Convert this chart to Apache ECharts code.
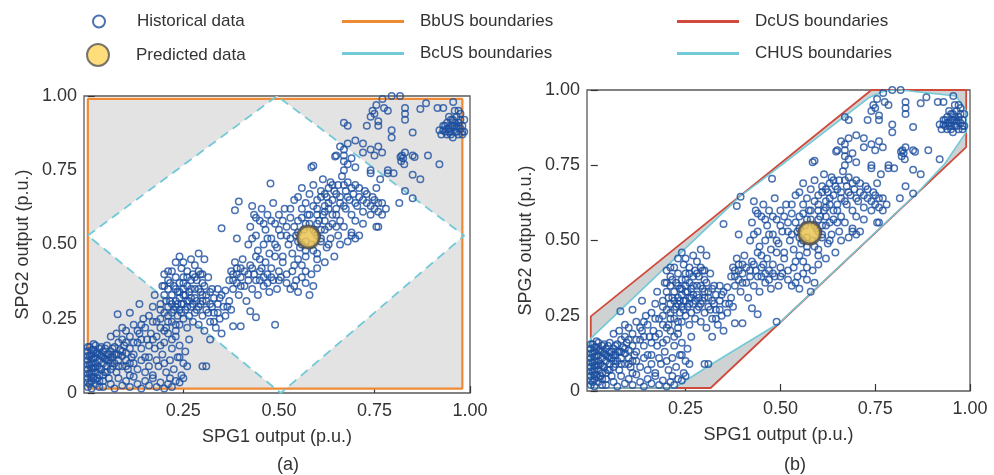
<!DOCTYPE html>
<html>
<head>
<meta charset="utf-8">
<script src="https://cdn.jsdelivr.net/npm/echarts@6/dist/echarts.min.js"></script>
<style>
  html, body { margin: 0; padding: 0; background: #fff; }
  #chart { width: 994px; height: 475px; }
</style>
</head>
<body>
<div id="chart"></div>
<script>
// historical (SPG1, SPG2) outputs, same set in both panels
const historical = [
  // dense block near origin
  [0.00,0.05],[0.00,0.08],[0.00,0.11],[0.00,0.14],[0.005,0.03],[0.005,0.065],[0.005,0.095],[0.005,0.125],[0.005,0.155],
  [0.01,0.04],[0.01,0.07],[0.01,0.10],[0.01,0.13],[0.015,0.055],[0.015,0.085],[0.015,0.115],[0.015,0.145],[0.02,0.03],
  [0.02,0.07],[0.02,0.10],[0.02,0.12],[0.02,0.16],[0.025,0.05],[0.025,0.09],[0.025,0.135],[0.03,0.06],[0.03,0.11],
  [0.03,0.15],[0.035,0.08],[0.035,0.125],[0.04,0.04],[0.04,0.10],[0.04,0.14],[0.045,0.07],[0.045,0.115],[0.05,0.09],
  [0.05,0.13],[0.05,0.16],[0.055,0.05],[0.055,0.11],[0.06,0.08],[0.06,0.14],[0.065,0.12],[0.07,0.10],[0.07,0.155],
  [0.075,0.07],[0.075,0.13],[0.08,0.11],[0.085,0.145],[0.09,0.09],[0.09,0.125],[0.095,0.16],[0.10,0.11],[0.10,0.135],
  [0.105,0.08],[0.11,0.15],[0.115,0.12],[0.12,0.10],[0.00,0.02],[0.01,0.015],[0.03,0.02],
  [0.00,0.035],[0.00,0.065],[0.00,0.095],[0.00,0.125],[0.00,0.155],[0.01,0.055],[0.01,0.085],[0.01,0.115],[0.01,0.145],
  [0.02,0.045],[0.02,0.085],[0.02,0.135],[0.03,0.04],[0.03,0.085],[0.03,0.13],[0.04,0.06],[0.04,0.12],[0.05,0.07],
  [0.05,0.11],[0.06,0.10],[0.06,0.12],[0.065,0.09],[0.07,0.13],[0.08,0.09],[0.08,0.13],[0.015,0.165],[0.035,0.155],
  [0.045,0.15],[0.055,0.13],[0.065,0.15],
  // bottom row
  [0.04,0.02],[0.06,0.03],[0.07,0.015],[0.09,0.025],[0.10,0.04],[0.11,0.02],[0.13,0.03],[0.14,0.015],[0.15,0.04],
  [0.16,0.025],[0.17,0.05],[0.18,0.02],[0.19,0.035],[0.20,0.015],[0.21,0.03],[0.215,0.05],[0.22,0.02],[0.23,0.04],
  [0.24,0.035],[0.25,0.05],[0.12,0.055],[0.08,0.05],
  // lower spread
  [0.06,0.19],[0.075,0.20],[0.09,0.18],[0.10,0.21],[0.11,0.19],[0.12,0.23],[0.13,0.17],[0.135,0.20],[0.14,0.15],
  [0.15,0.22],[0.155,0.18],[0.16,0.12],[0.165,0.20],[0.17,0.24],[0.175,0.15],[0.18,0.19],[0.185,0.09],[0.19,0.22],
  [0.195,0.13],[0.20,0.17],[0.205,0.07],[0.21,0.20],[0.215,0.11],[0.22,0.15],[0.225,0.08],[0.23,0.19],[0.235,0.12],
  [0.24,0.16],[0.245,0.06],[0.25,0.10],[0.255,0.14],[0.26,0.09],[0.265,0.18],[0.13,0.08],[0.14,0.11],[0.15,0.07],
  [0.11,0.06],[0.10,0.09],[0.17,0.06],[0.16,0.09],[0.18,0.11],[0.20,0.10],[0.12,0.17],[0.145,0.25],[0.08,0.17],
  [0.09,0.22],[0.11,0.27],[0.135,0.30],[0.078,0.265],[0.175,0.33],[0.17,0.29],[0.30,0.09],[0.31,0.09],[0.32,0.18],
  [0.24,0.12],[0.12,0.13],[0.13,0.21],[0.14,0.18],[0.15,0.12],[0.16,0.16],[0.17,0.18],[0.18,0.24],[0.19,0.16],
  [0.20,0.21],[0.21,0.24],[0.22,0.18],[0.23,0.23],[0.14,0.23],[0.16,0.26],[0.19,0.28],[0.10,0.17],[0.09,0.14],
  [0.11,0.10],
  // cluster around (0.27, 0.32)
  [0.19,0.25],[0.19,0.30],[0.195,0.36],[0.20,0.27],[0.20,0.33],[0.20,0.40],[0.205,0.22],[0.21,0.29],[0.21,0.35],
  [0.21,0.38],[0.215,0.31],[0.22,0.24],[0.22,0.27],[0.22,0.33],[0.22,0.41],[0.225,0.36],[0.23,0.21],[0.23,0.29],
  [0.23,0.31],[0.23,0.39],[0.235,0.26],[0.235,0.34],[0.24,0.23],[0.24,0.28],[0.24,0.32],[0.24,0.37],[0.24,0.46],
  [0.245,0.30],[0.245,0.42],[0.25,0.25],[0.25,0.33],[0.25,0.35],[0.25,0.39],[0.255,0.28],[0.26,0.22],[0.26,0.31],
  [0.26,0.36],[0.26,0.41],[0.265,0.26],[0.265,0.34],[0.27,0.29],[0.27,0.38],[0.27,0.32],[0.275,0.24],[0.275,0.40],
  [0.28,0.27],[0.28,0.35],[0.28,0.43],[0.285,0.31],[0.285,0.38],[0.29,0.23],[0.29,0.29],[0.29,0.47],[0.295,0.34],
  [0.295,0.40],[0.30,0.26],[0.30,0.31],[0.30,0.37],[0.305,0.45],[0.305,0.21],[0.31,0.28],[0.31,0.33],[0.315,0.39],
  [0.32,0.24],[0.32,0.30],[0.325,0.35],[0.33,0.27],[0.33,0.32],[0.335,0.22],[0.34,0.30],[0.345,0.25],[0.35,0.33],
  [0.35,0.20],[0.36,0.26],[0.365,0.29],[0.37,0.31],[0.375,0.28],[0.38,0.225],[0.40,0.225],[0.425,0.275],[0.44,0.255],
  [0.49,0.23],[0.36,0.345],[0.34,0.35],
  [0.20,0.36],[0.205,0.31],[0.21,0.26],[0.215,0.37],[0.22,0.30],[0.225,0.28],[0.23,0.35],[0.235,0.30],[0.24,0.34],
  [0.245,0.27],[0.25,0.30],[0.25,0.37],[0.255,0.33],[0.26,0.29],[0.26,0.39],[0.265,0.31],[0.27,0.35],[0.275,0.30],
  [0.28,0.32],[0.28,0.39],[0.285,0.28],[0.29,0.35],[0.29,0.41],[0.295,0.30],[0.30,0.33],[0.30,0.40],[0.305,0.36],
  [0.31,0.31],[0.315,0.27],[0.32,0.34],[0.325,0.29],[0.33,0.24],[0.34,0.27],[0.345,0.32],[0.355,0.29],[0.23,0.44],
  [0.25,0.44],[0.27,0.45],[0.21,0.41],
  // cluster around (0.45, 0.40)
  [0.37,0.38],[0.375,0.41],[0.38,0.35],[0.38,0.40],[0.385,0.44],[0.39,0.37],[0.39,0.42],[0.395,0.33],[0.40,0.39],
  [0.405,0.45],[0.41,0.36],[0.41,0.41],[0.415,0.31],[0.42,0.38],[0.425,0.43],[0.43,0.35],[0.435,0.40],[0.44,0.46],
  [0.445,0.33],[0.45,0.38],[0.455,0.42],[0.46,0.36],[0.465,0.44],[0.47,0.40],[0.475,0.34],[0.48,0.42],[0.485,0.38],
  [0.49,0.46],[0.495,0.35],[0.50,0.41],[0.505,0.39],[0.51,0.44],[0.52,0.37],[0.53,0.35],[0.535,0.41],[0.545,0.38],
  [0.55,0.34],[0.56,0.43],[0.57,0.37],[0.58,0.33],[0.585,0.40],[0.59,0.36],[0.60,0.42],
  [0.38,0.38],[0.39,0.40],[0.40,0.36],[0.40,0.42],[0.42,0.40],[0.43,0.42],[0.44,0.38],[0.45,0.41],[0.46,0.39],
  [0.47,0.37],[0.48,0.39],[0.50,0.38],[0.52,0.40],[0.54,0.36],[0.56,0.39],[0.57,0.41],
  // around the predicted point
  [0.39,0.52],[0.35,0.555],[0.385,0.615],[0.395,0.645],[0.42,0.50],[0.425,0.56],[0.43,0.63],[0.435,0.60],[0.44,0.53],
  [0.445,0.48],[0.45,0.58],[0.455,0.62],[0.46,0.50],[0.465,0.55],[0.47,0.60],[0.475,0.47],[0.478,0.705],[0.48,0.52],
  [0.485,0.64],[0.49,0.57],[0.495,0.49],[0.50,0.60],[0.505,0.53],[0.51,0.46],[0.515,0.62],[0.52,0.56],[0.525,0.50],
  [0.53,0.59],[0.535,0.47],[0.54,0.65],[0.545,0.53],[0.55,0.58],[0.555,0.49],[0.56,0.62],[0.565,0.55],[0.57,0.46],
  [0.575,0.60],[0.58,0.57],[0.585,0.50],[0.59,0.63],[0.595,0.54],[0.60,0.47],[0.605,0.58],[0.61,0.51],[0.615,0.60],
  [0.62,0.55],[0.625,0.49],[0.63,0.64],[0.635,0.52],[0.64,0.57],[0.645,0.46],[0.65,0.60],[0.655,0.53],[0.66,0.50],
  [0.67,0.56],[0.675,0.62],[0.68,0.51],[0.69,0.54],[0.70,0.58],[0.71,0.53],[0.72,0.57],[0.585,0.76],[0.59,0.765],
  [0.55,0.45],[0.60,0.45],[0.62,0.44],[0.54,0.43],[0.61,0.52],[0.53,0.52],[0.57,0.51],[0.55,0.51],[0.60,0.53],
  [0.50,0.55],[0.51,0.58],[0.52,0.53],[0.53,0.62],[0.54,0.56],[0.55,0.54],[0.56,0.50],[0.56,0.59],[0.57,0.57],
  [0.58,0.60],[0.59,0.55],[0.59,0.48],[0.60,0.57],[0.61,0.55],[0.62,0.58],[0.63,0.56],[0.63,0.50],[0.64,0.60],
  [0.65,0.56],[0.66,0.58],[0.62,0.61],[0.60,0.60],[0.57,0.48],[0.48,0.58],[0.47,0.52],[0.49,0.50],[0.46,0.57],
  [0.44,0.59],[0.43,0.52],[0.45,0.45],
  // upper band
  [0.55,0.66],[0.56,0.69],[0.57,0.64],[0.58,0.67],[0.59,0.70],[0.60,0.65],[0.61,0.68],[0.615,0.72],[0.62,0.63],
  [0.625,0.66],[0.63,0.69],[0.635,0.71],[0.64,0.65],[0.645,0.68],[0.65,0.62],[0.655,0.70],[0.66,0.66],[0.665,0.73],
  [0.67,0.63],[0.675,0.68],[0.68,0.71],[0.685,0.65],[0.69,0.60],[0.695,0.67],[0.70,0.70],[0.705,0.63],[0.71,0.66],
  [0.72,0.61],[0.725,0.68],[0.73,0.64],[0.74,0.60],[0.745,0.66],[0.75,0.62],[0.755,0.69],[0.76,0.64],[0.77,0.60],
  [0.78,0.62],[0.755,0.56],[0.76,0.56],[0.69,0.53],[0.70,0.52],[0.74,0.74],[0.74,0.75],[0.765,0.72],[0.785,0.74],
  [0.67,0.75],[0.68,0.77],[0.69,0.79],[0.70,0.76],[0.647,0.796],[0.67,0.78],[0.67,0.80],
  [0.60,0.62],[0.61,0.66],[0.62,0.67],[0.63,0.62],[0.64,0.70],[0.65,0.67],[0.66,0.64],[0.67,0.70],[0.68,0.66],
  [0.69,0.69],[0.70,0.64],[0.71,0.69],[0.72,0.65],[0.73,0.67],[0.74,0.63],[0.75,0.65],[0.76,0.61],[0.77,0.64],
  // upper middle
  [0.65,0.80],[0.66,0.83],[0.67,0.82],[0.68,0.84],[0.70,0.85],[0.72,0.84],[0.67,0.91],[0.68,0.90],[0.73,0.90],
  [0.72,0.81],[0.74,0.82],[0.75,0.80],[0.76,0.83],[0.77,0.81],[0.74,0.93],[0.745,0.95],[0.75,0.94],[0.755,0.97],
  [0.76,0.90],[0.76,0.915],[0.771,0.99],[0.775,0.96],[0.785,0.95],[0.795,1.00],[0.817,1.00],[0.795,0.86],[0.795,0.885],
  [0.82,0.78],[0.822,0.80],[0.825,0.79],[0.83,0.81],[0.828,0.77],[0.818,0.795],[0.83,0.96],[0.83,0.94],[0.83,0.92],
  [0.785,0.75],[0.80,0.74],[0.85,0.735],[0.87,0.72],[0.83,0.68],[0.85,0.656],[0.815,0.64],[0.85,0.80],[0.855,0.795],
  [0.89,0.80],[0.92,0.77],[0.85,0.877],[0.87,0.956],[0.885,0.976],[0.915,0.96],[0.93,0.96],[0.956,0.98],
  // top-right cluster
  [0.92,0.885],[0.93,0.885],[0.935,0.90],[0.94,0.87],[0.94,0.91],[0.945,0.89],[0.95,0.92],[0.95,0.88],[0.955,0.90],
  [0.955,0.86],[0.96,0.91],[0.96,0.88],[0.965,0.93],[0.965,0.895],[0.97,0.87],[0.97,0.91],[0.975,0.89],[0.975,0.94],
  [0.98,0.90],[0.98,0.87],[0.985,0.92],[0.95,0.90],[0.945,0.93],[0.96,0.95],[0.97,0.95],[0.985,0.88],
  [0.93,0.90],[0.94,0.89],[0.95,0.87],[0.96,0.90],[0.965,0.88],[0.97,0.90],[0.975,0.92],[0.98,0.88],[0.955,0.92],
  [0.945,0.88],[0.935,0.88],[0.925,0.87]
]
const predicted = [[0.577, 0.525]]

// boundary vertices (closed)
const bbusBox = [[0, 0.015], [0.98, 0.015], [0.98, 0.99], [0, 0.99], [0, 0.015]]
const bcusDiamond = [[0, 0.53], [0.495, 1.0], [0.985, 0.53], [0.505, 0.0], [0, 0.53]]
const dcusPoly = [[0, 0.01], [0, 0.248], [0.74, 1.0], [0.99, 1.0], [0.99, 0.81], [0.316, 0.01], [0, 0.01]]
const chusPoly = [[0, 0.01], [0, 0.175], [0.395, 0.648], [0.445, 0.695], [0.733, 0.974], [0.771, 0.995], [0.80, 1.0],
  [0.817, 1.0], [0.963, 0.98], [0.99, 0.93], [0.99, 0.86], [0.934, 0.756], [0.864, 0.662], [0.497, 0.226],
  [0.318, 0.089], [0.22, 0.01], [0, 0.01]]

const xTicks = [0.25, 0.5, 0.75, 1]

const orange = '#ef8a34'
const red = '#d04a3c'
const cyan = '#72c9d8'
const navy = '#1d4f9f'
const txt = '#333'

const chart = echarts.init(document.getElementById('chart'))

function fill(points, color) {
  return function (params, api) {
    return {
      type: 'polygon',
      shape: { points: points.map(p => api.coord(p)) },
      style: { fill: color }
    }
  }
}

function xAxis(gi) {
  return {
    type: 'value', gridIndex: gi, min: -0.01, max: 1,
    name: 'SPG1 output (p.u.)', nameLocation: 'middle', nameGap: 35,
    nameTextStyle: { fontSize: 18, color: txt, fontFamily: 'Liberation Sans' },
    axisLine: { show: false },
    splitLine: { show: false },
    axisTick: { inside: true, length: 7, customValues: xTicks, lineStyle: { color: '#333', width: 1.2 } },
    axisLabel: {
      customValues: xTicks, margin: 9, fontSize: 18, color: txt,
      fontFamily: 'Liberation Sans',
      formatter: v => v.toFixed(2)
    }
  }
}

function yAxis(gi) {
  return {
    type: 'value', gridIndex: gi, min: 0, max: 1, interval: 0.25,
    name: 'SPG2 output (p.u.)', nameLocation: 'middle', nameGap: 52,
    nameTextStyle: { fontSize: 18, color: txt, fontFamily: 'Liberation Sans' },
    axisLine: { show: false },
    splitLine: { show: false },
    axisTick: { inside: true, length: 7, lineStyle: { color: '#333', width: 1.2 } },
    axisLabel: {
      margin: 7, fontSize: 18, color: txt,
      fontFamily: 'Liberation Sans',
      formatter: v => (v === 0 ? '0' : v.toFixed(2))
    }
  }
}

function histSeries(i) {
  return {
    name: 'Historical data', type: 'scatter', xAxisIndex: i, yAxisIndex: i, z: 4,
    data: historical, symbol: 'circle', symbolSize: 6.5,
    itemStyle: { color: 'rgba(255,255,255,0)', borderColor: navy, borderWidth: 1.5 }
  }
}

function predSeries(i) {
  return {
    name: 'Predicted data', type: 'scatter', xAxisIndex: i, yAxisIndex: i, z: 5,
    data: predicted, symbol: 'circle', symbolSize: 22,
    itemStyle: {
      color: '#ffd45a', borderColor: '#555', borderWidth: 2.5,
      shadowColor: 'rgba(0,0,0,0.4)', shadowBlur: 3
    }
  }
}

const legendText = { fontSize: 17, color: txt, fontFamily: 'Liberation Sans' }

const option = {
  animation: false,
  backgroundColor: '#fff',
  title: [
    { text: '(a)', left: 283, top: 451, textAlign: 'center', textStyle: { fontSize: 18, fontWeight: 'normal', color: txt, fontFamily: 'Liberation Sans' } },
    { text: '(b)', left: 790, top: 451, textAlign: 'center', textStyle: { fontSize: 18, fontWeight: 'normal', color: txt, fontFamily: 'Liberation Sans' } }
  ],
  legend: [
    { data: ['Historical data'], left: 87, top: 8, itemWidth: 66, itemHeight: 12, textStyle: legendText, selectedMode: false },
    { data: ['Predicted data'], left: 81, top: 38, itemWidth: 66, itemHeight: 22, textStyle: legendText, selectedMode: false },
    {
      data: ['BbUS boundaries', 'BcUS boundaries'], icon: 'rect',
      orient: 'vertical', left: 337, top: 8, itemGap: 15, itemWidth: 62, itemHeight: 3,
      textStyle: Object.assign({ padding: [0, 0, 0, 11] }, legendText), selectedMode: false
    },
    {
      data: ['DcUS boundaries', 'CHUS boundaries'], icon: 'rect',
      orient: 'vertical', left: 672, top: 8, itemGap: 15, itemWidth: 62, itemHeight: 3,
      textStyle: Object.assign({ padding: [0, 0, 0, 11] }, legendText), selectedMode: false
    }
  ],
  grid: [
    { left: 84, right: 524, top: 96, bottom: 82, show: true, borderColor: '#5a5a5a', borderWidth: 1.3, backgroundColor: '#fff' },
    { left: 587, right: 24, top: 90, bottom: 84, show: true, borderColor: '#5a5a5a', borderWidth: 1.3, backgroundColor: '#fff' }
  ],
  xAxis: [xAxis(0), xAxis(1)],
  yAxis: [yAxis(0), yAxis(1)],
  series: [
    // panel (a)
    { type: 'custom', xAxisIndex: 0, yAxisIndex: 0, silent: true, z: 1, data: [[0, 0]], renderItem: fill(bbusBox, '#e3e3e3') },
    { type: 'custom', xAxisIndex: 0, yAxisIndex: 0, silent: true, z: 2, data: [[0, 0]], renderItem: fill(bcusDiamond, '#fff') },
    {
      name: 'BbUS boundaries', type: 'line', xAxisIndex: 0, yAxisIndex: 0, z: 3, color: orange,
      data: bbusBox, symbol: 'none', lineStyle: { color: orange, width: 2.2 }
    },
    {
      name: 'BcUS boundaries', type: 'line', xAxisIndex: 0, yAxisIndex: 0, z: 3, color: cyan,
      data: bcusDiamond, symbol: 'none', lineStyle: { color: cyan, width: 1.8, type: [9, 6] }
    },
    histSeries(0),
    predSeries(0),
    // panel (b)
    { type: 'custom', xAxisIndex: 1, yAxisIndex: 1, silent: true, z: 1, data: [[0, 0]], renderItem: fill(dcusPoly, '#cfd2d2') },
    { type: 'custom', xAxisIndex: 1, yAxisIndex: 1, silent: true, z: 2, data: [[0, 0]], renderItem: fill(chusPoly, '#fff') },
    {
      name: 'DcUS boundaries', type: 'line', xAxisIndex: 1, yAxisIndex: 1, z: 3, color: red,
      data: dcusPoly, symbol: 'none', lineStyle: { color: red, width: 1.8 }
    },
    {
      name: 'CHUS boundaries', type: 'line', xAxisIndex: 1, yAxisIndex: 1, z: 3, color: cyan,
      data: chusPoly, symbol: 'none', lineStyle: { color: cyan, width: 1.6 }
    },
    histSeries(1),
    predSeries(1)
  ]
}

chart.setOption(option)
</script>
</body>
</html>
